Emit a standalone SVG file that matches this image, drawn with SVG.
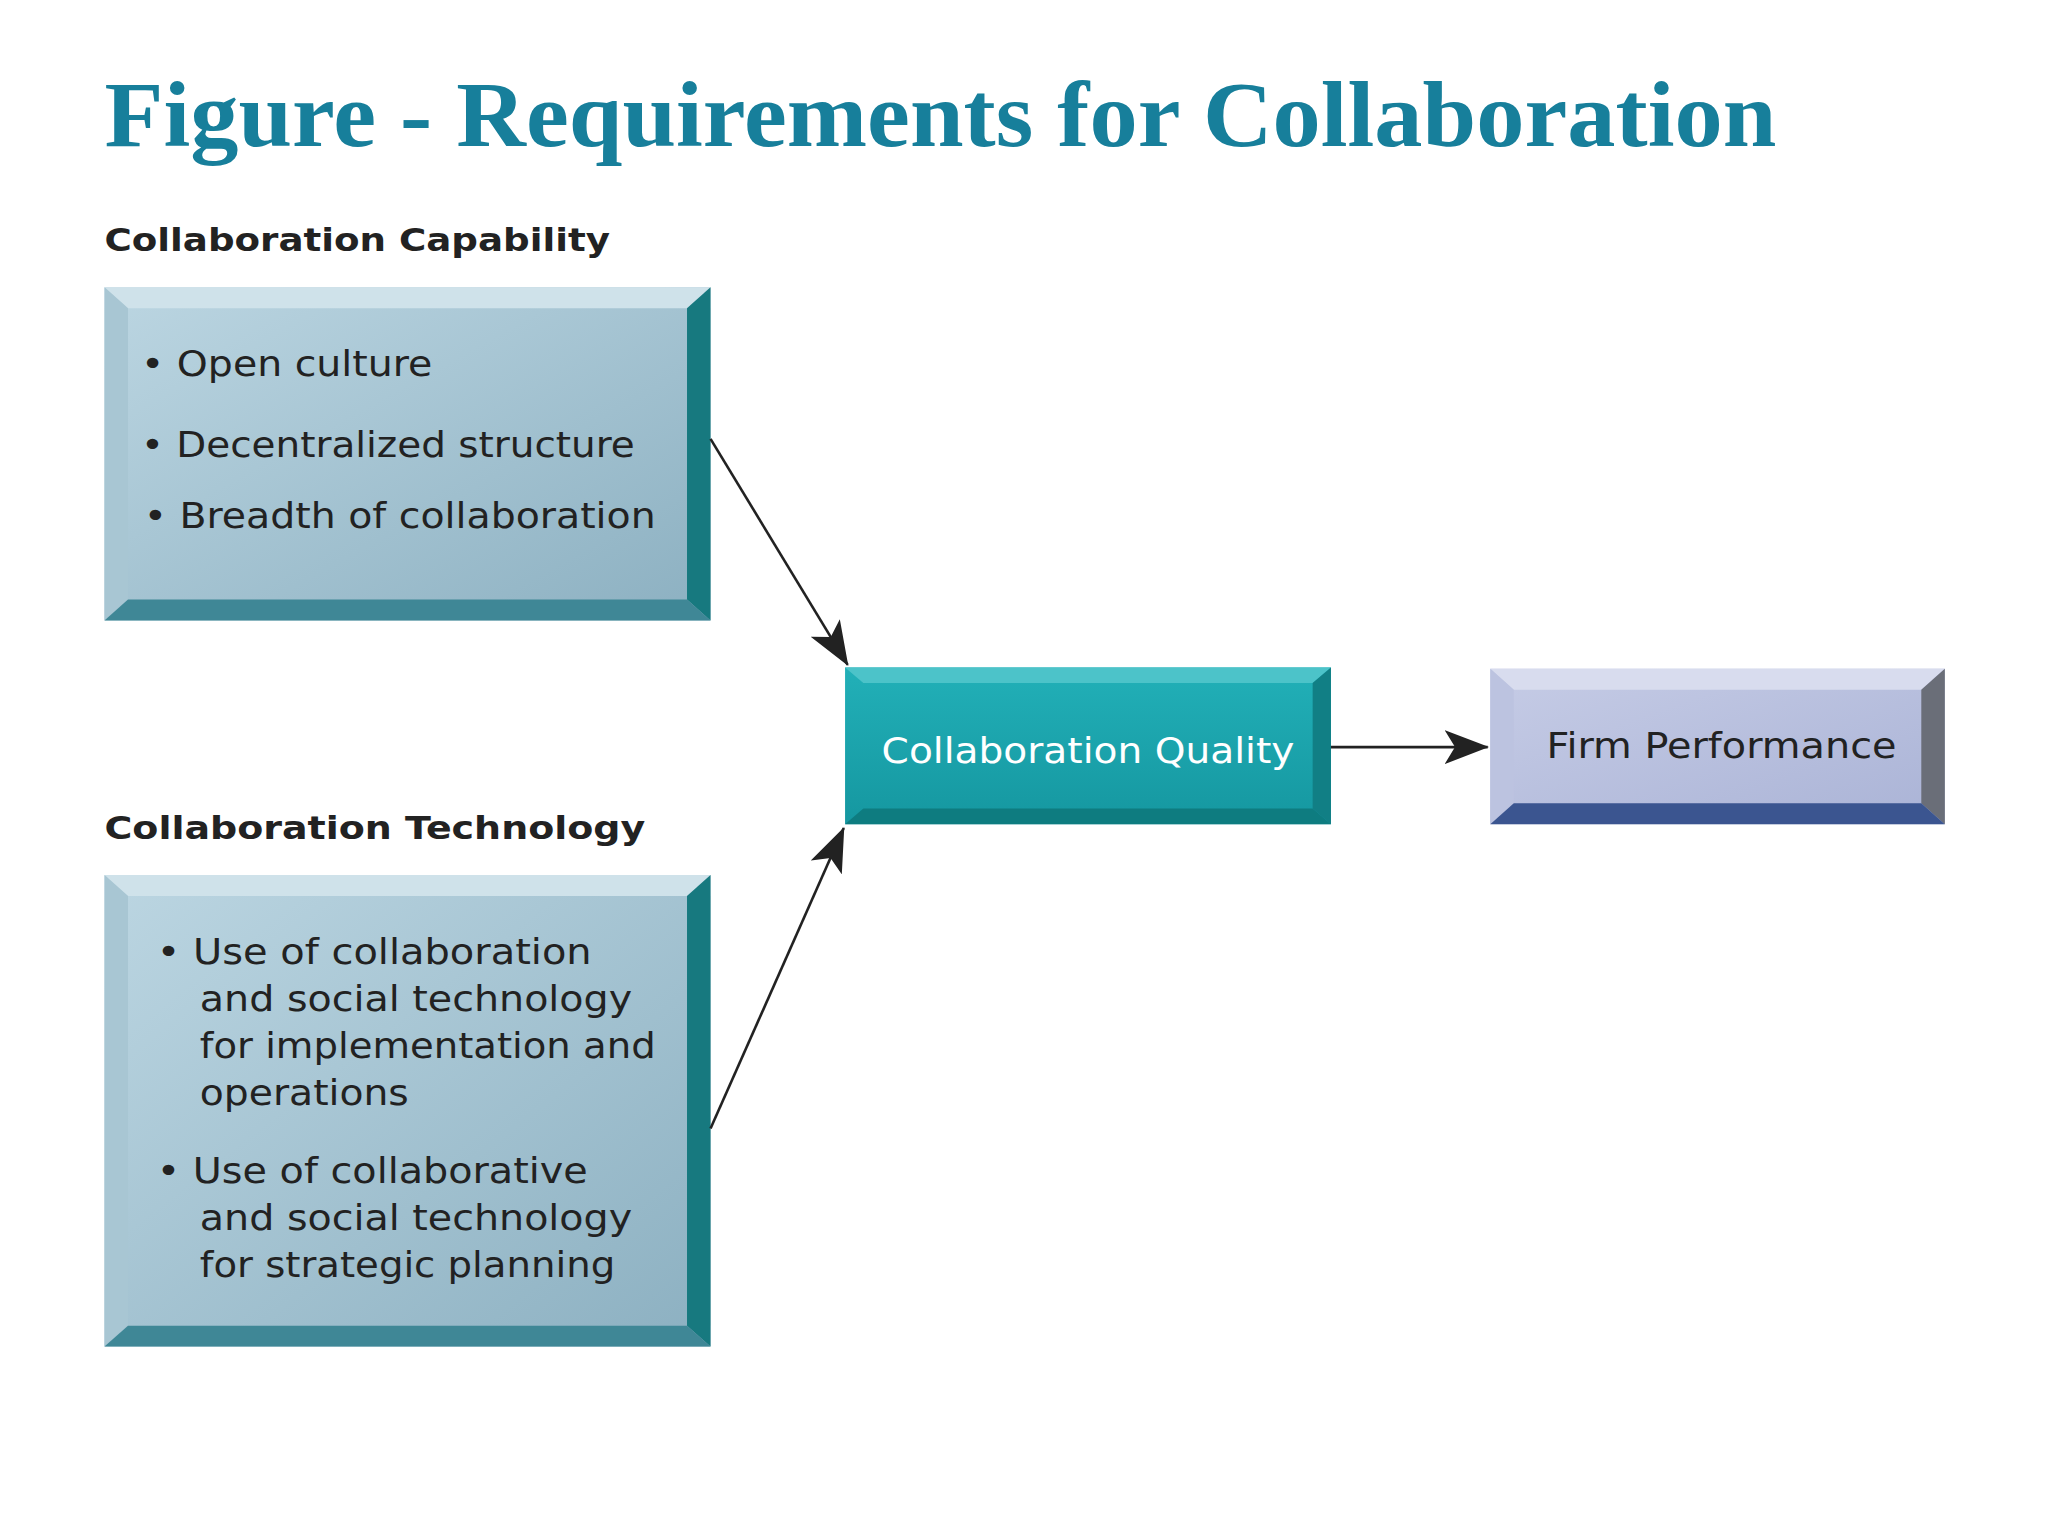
<svg xmlns="http://www.w3.org/2000/svg" width="2048" height="1536" viewBox="0 0 2048 1536">
<defs>
<linearGradient id="gb" x1="0" y1="0" x2="1" y2="1"><stop offset="0" stop-color="#bcd6e2"/><stop offset="1" stop-color="#8cb0c1"/></linearGradient>
<linearGradient id="gq" x1="0" y1="0" x2="0" y2="1"><stop offset="0" stop-color="#22b0b8"/><stop offset="1" stop-color="#1597a0"/></linearGradient>
<linearGradient id="gf" x1="0" y1="0" x2="1" y2="1"><stop offset="0" stop-color="#c6cce6"/><stop offset="1" stop-color="#aab3d6"/></linearGradient>
<marker id="ah" markerWidth="34" markerHeight="26" refX="33" refY="13" orient="auto" markerUnits="userSpaceOnUse"><path d="M0,0 L34,13 L0,26 L8,13 Z" fill="#222"/></marker>
</defs>
<style>
.t{font-family:"DejaVu Sans",sans-serif;fill:#222;font-size:27px}
.h{font-family:"DejaVu Sans",sans-serif;font-weight:bold;font-size:25px;fill:#222}
.c{stroke:#222;stroke-width:2;fill:none;marker-end:url(#ah)}
</style>
<rect width="2048" height="1536" fill="#fff"/>
<g transform="scale(1.30612)">
<text x="80" y="112" font-family="Liberation Serif,serif" font-weight="bold" font-size="72" fill="#177f9b" textLength="1280" lengthAdjust="spacingAndGlyphs">Figure - Requirements for Collaboration</text>
<text class="h" x="80" y="192" textLength="387" lengthAdjust="spacingAndGlyphs">Collaboration Capability</text>
<text class="h" x="80" y="642" textLength="414" lengthAdjust="spacingAndGlyphs">Collaboration Technology</text>
<g id="cap">
<rect x="80" y="220" width="464" height="255" fill="url(#gb)"/>
<polygon points="80,220 544,220 526,236 98,236" fill="#cfe2ea"/>
<polygon points="80,220 98,236 98,459 80,475" fill="#a8c6d3"/>
<polygon points="544,220 544,475 526,459 526,236" fill="#17797f"/>
<polygon points="80,475 544,475 526,459 98,459" fill="#3f8796"/>
<text class="t" x="108" y="288" textLength="223" lengthAdjust="spacingAndGlyphs">• Open culture</text>
<text class="t" x="108" y="350" textLength="378" lengthAdjust="spacingAndGlyphs">• Decentralized structure</text>
<text class="t" x="110" y="404" textLength="392" lengthAdjust="spacingAndGlyphs">• Breadth of collaboration</text>
</g>
<g id="tech">
<rect x="80" y="670" width="464" height="361" fill="url(#gb)"/>
<polygon points="80,670 544,670 526,686 98,686" fill="#cfe2ea"/>
<polygon points="80,670 98,686 98,1015 80,1031" fill="#a8c6d3"/>
<polygon points="544,670 544,1031 526,1015 526,686" fill="#17797f"/>
<polygon points="80,1031 544,1031 526,1015 98,1015" fill="#3f8796"/>
<text class="t" x="120" y="738" textLength="333" lengthAdjust="spacingAndGlyphs">• Use of collaboration</text>
<text class="t" x="153" y="774" textLength="331" lengthAdjust="spacingAndGlyphs">and social technology</text>
<text class="t" x="153" y="810" textLength="349" lengthAdjust="spacingAndGlyphs">for implementation and</text>
<text class="t" x="153" y="846" textLength="160" lengthAdjust="spacingAndGlyphs">operations</text>
<text class="t" x="120" y="906" textLength="330" lengthAdjust="spacingAndGlyphs">• Use of collaborative</text>
<text class="t" x="153" y="942" textLength="331" lengthAdjust="spacingAndGlyphs">and social technology</text>
<text class="t" x="153" y="978" textLength="318" lengthAdjust="spacingAndGlyphs">for strategic planning</text>
</g>
<g id="quality">
<rect x="647" y="511" width="372" height="120" fill="url(#gq)"/>
<polygon points="647,511 1019,511 1005,523 661,523" fill="#4cc3c9"/>
<polygon points="647,631 1019,631 1005,619 661,619" fill="#0e7c80"/>
<polygon points="1019,511 1019,631 1005,619 1005,523" fill="#117f85"/>
<text x="675" y="584" font-family="DejaVu Sans,sans-serif" font-size="27" fill="#fff" textLength="316" lengthAdjust="spacingAndGlyphs">Collaboration Quality</text>
</g>
<g id="firm">
<rect x="1141" y="512" width="348" height="119" fill="url(#gf)"/>
<polygon points="1141,512 1489,512 1471,528 1159,528" fill="#d8dcee"/>
<polygon points="1141,512 1159,528 1159,615 1141,631" fill="#bcc3e0"/>
<polygon points="1489,512 1489,631 1471,615 1471,528" fill="#6a6e78"/>
<polygon points="1141,631 1489,631 1471,615 1159,615" fill="#3b5590"/>
<text class="t" x="1184" y="580" textLength="268" lengthAdjust="spacingAndGlyphs">Firm Performance</text>
</g>
<g id="connectors">
<line class="c" x1="544" y1="336" x2="649" y2="509"/>
<line class="c" x1="544" y1="864" x2="646" y2="634"/>
<line class="c" x1="1019" y1="572" x2="1139" y2="572"/>
</g>
</g>
</svg>
